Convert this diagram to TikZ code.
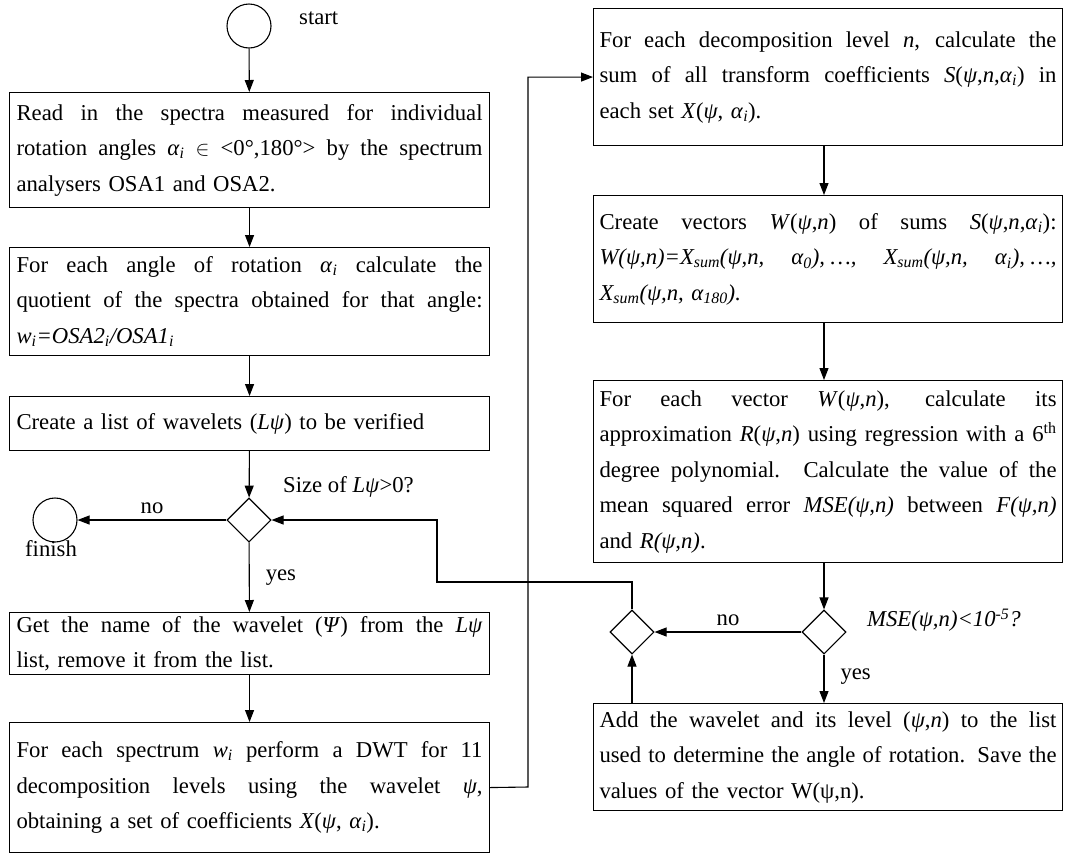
\documentclass[tikz,border=0pt]{standalone}
\usepackage{fontspec}
\setmainfont{Liberation Serif}
\usetikzlibrary{arrows.meta,shapes.geometric,calc}

% italic Greek letters used in the formulas
\newcommand{\ps}{\textit{ψ}}
\newcommand{\al}{\textit{α}}
\newcommand{\sub}[1]{\textsubscript{#1}}
% a fully justified line inside a box (font spaces, which can stretch)
\newcommand{\jl}[1]{\leavevmode\hbox to \hsize{\spaceskip=0pt\xspaceskip=0pt\relax #1}}

\begin{document}
\begin{tikzpicture}[x=1pt,y=-1pt,
  every node/.style={font=\fontsize{22.7}{35.5}\selectfont},
  lbox/.style={draw,line width=1.1pt,anchor=north west,inner xsep=7pt,inner ysep=0pt,
               text width=466pt,align=left},
  rbox/.style={draw,line width=1.1pt,anchor=north west,inner xsep=6pt,inner ysep=0pt,
               text width=457pt,align=left},
  term/.style={draw,line width=1.1pt,circle,minimum size=44pt,inner sep=0pt},
  decision/.style={draw,line width=1.1pt,diamond,aspect=1,minimum size=44pt,inner sep=0pt},
  arr/.style={line width=1.1pt,-{Triangle[length=12pt,width=9pt]}},
  lbl/.style={inner sep=0pt}]

\useasboundingbox (0,0) rectangle (1065,855);

% ---------- left column ----------
\node[term] (start) at (249,26) {};
\node[lbl,anchor=west] (startlbl) at (299,18) {start};

\node[lbox,minimum height=115pt] (read) at (9,92)
  {\jl{Read in the spectra measured for individual}\\
   \jl{rotation angles \al\sub{\textit{i}} $\in$ <0°,180°> by the spectrum}\\
   analysers OSA1 and OSA2.};

\node[lbox,minimum height=108pt] (quot) at (9,247)
  {\jl{For each angle of rotation \al\sub{\textit{i}} calculate the}\\
   \jl{quotient of the spectra obtained for that angle:}\\
   \textit{w\sub{i}=OSA2\sub{i}/OSA1\sub{i}}};

\node[lbox,minimum height=54pt] (list) at (9,396)
  {Create a list of wavelets (\textit{L}\ps) to be verified};

\node[decision] (size) at (249,520) {};
\node[lbl,anchor=west] (sizelbl) at (283,487) {Size of \textit{L}\ps>0?};

\node[term] (finish) at (55,520) {};
\node[lbl] (finishlbl) at (51,549) {finish};

\node[lbox,minimum height=62pt] (get) at (9,612)
  {\jl{Get the name of the wavelet (\textit{Ψ}) from the \textit{L}\ps}\\
   list, remove it from the list.};

\node[lbox,minimum height=130pt] (dwt) at (9,722)
  {\jl{For each spectrum \textit{w\sub{i}} perform a DWT for 11}\\
   \jl{decomposition levels using the wavelet \ps,}\\
   obtaining a set of coefficients \textit{X}(\ps, \al\sub{\textit{i}}).};

% ---------- right column ----------
\node[rbox,minimum height=137pt] (sum) at (593,8)
  {\jl{For each decomposition level \textit{n}, calculate the}\\
   \jl{sum of all transform coefficients \textit{S}(\ps,\textit{n},\al\sub{\textit{i}}) in}\\
   each set \textit{X}(\ps, \al\sub{\textit{i}}).};

\node[rbox,minimum height=127pt] (vec) at (593,195)
  {\jl{Create vectors \textit{W}(\ps,\textit{n}) of sums \textit{S}(\ps,\textit{n},\al\sub{\textit{i}}):}\\
   \jl{\textit{W(ψ,n)=X\sub{sum}(ψ,n, α\sub{0}),\hspace{.25em}…, X\sub{sum}(ψ,n, α\sub{i}),\hspace{.25em}…,}}\\
   \textit{X\sub{sum}(ψ,n, α\sub{180}).}};

\node[rbox,minimum height=182pt] (mse) at (593,380)
  {\jl{For each vector \textit{W}(\ps,\textit{n}), calculate its}\\
   \jl{approximation \textit{R}(\ps,\textit{n}) using regression with a 6\textsuperscript{th}}\\
   \jl{degree polynomial. Calculate the value of the}\\
   \jl{mean squared error \textit{MSE(ψ,n)} between \textit{F(ψ,n)}}\\
   and \textit{R(ψ,n)}.};

\node[decision] (test) at (824,632) {};
\node[lbl,anchor=west] (testlbl) at (867,620) {\textit{MSE(ψ,n)<10\textsuperscript{-5}?}};

\node[decision] (merge) at (632,632) {};

\node[rbox,minimum height=107pt] (add) at (593,703)
  {\jl{Add the wavelet and its level (\ps,\textit{n}) to the list}\\
   \jl{used to determine the angle of rotation. Save the}\\
   values of the vector W(ψ,n).};

% ---------- connectors ----------
\draw[arr] (start) -- (read);
\draw[arr] (read) -- (quot);
\draw[arr] (quot) -- (list);
\draw[arr] (list) -- (size);
\draw[arr] (size) -- node[lbl,above=6pt] {no} (finish);
\draw[arr] (size) -- node[lbl,pos=0.5,right=16pt] {yes} (get);
\draw[arr] (get) -- (dwt);

\coordinate (riser) at (528,787);
\draw[arr] (dwt.east) -- (riser) |- (sum.west);

\draw[arr] (sum.south -| test) -- (vec.north -| test);
\draw[arr] (vec.south -| test) -- (mse.north -| test);
\draw[arr] (mse.south -| test) -- (test);
\draw[arr] (test) -- node[lbl,above=6pt] {no} (merge);
\draw[arr] (test) -- node[lbl,pos=0.45,right=16pt] {yes} (add.north -| test);
\draw[arr] (add.north -| merge) -- (merge);

\coordinate (loopcorner) at (437,582);
\draw[arr] (merge.north) |- (loopcorner) |- (size.east);

\end{tikzpicture}
\end{document}
